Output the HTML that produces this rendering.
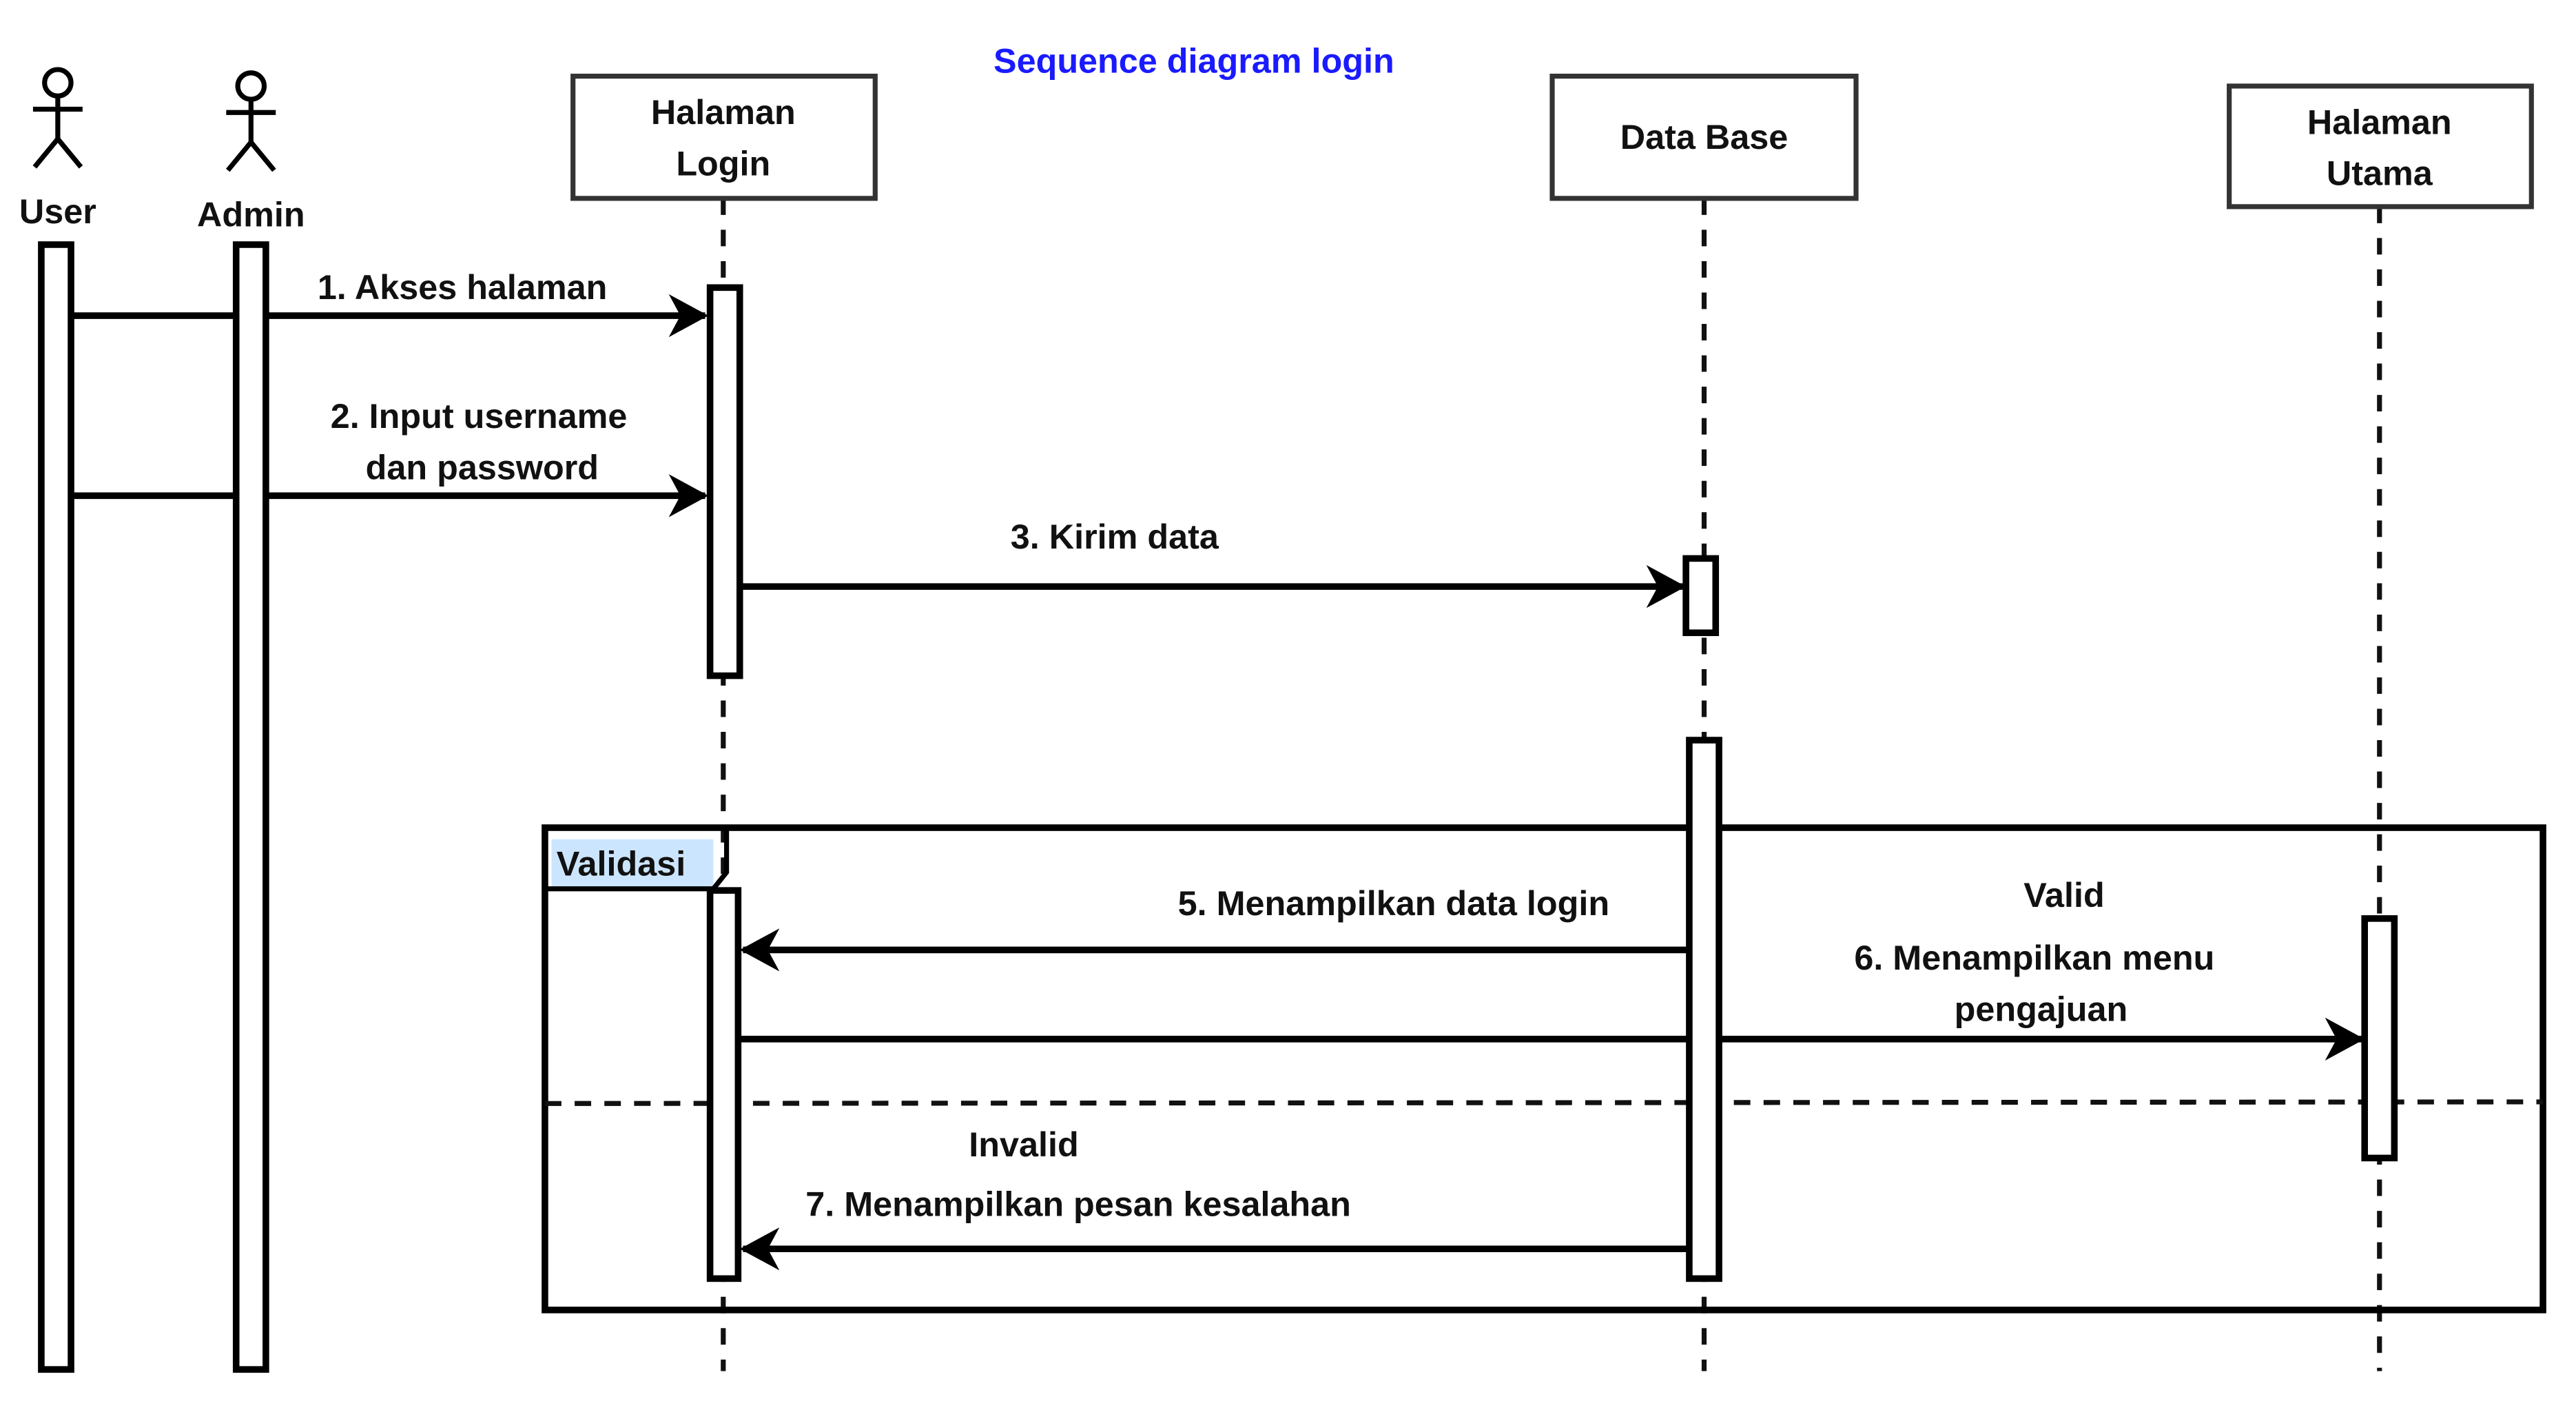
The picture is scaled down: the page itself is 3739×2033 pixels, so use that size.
<!DOCTYPE html>
<html><head><meta charset="utf-8"><style>
html,body{margin:0;padding:0;background:#fff;}
svg{display:block;}
text{font-family:"Liberation Sans",sans-serif;font-size:21px;font-weight:bold;fill:#111;}
</style></head><body>
<svg width="3739" height="2033" viewBox="0 0 1560 848" xmlns="http://www.w3.org/2000/svg">
<defs>
<marker id="ar" markerWidth="30" markerHeight="30" refX="22" refY="13" orient="auto" markerUnits="userSpaceOnUse">
<path d="M0,0 L24,13 L0,26 L7,13 Z" fill="#000"/>
</marker>
</defs>
<rect width="1560" height="848" fill="#fff"/>
<text x="723" y="44" text-anchor="middle" style="fill:#1a1aff;">Sequence diagram login</text>

<!-- actors -->
<g stroke="#000" stroke-width="3" fill="none">
<circle cx="35" cy="50" r="8"/><line x1="35" y1="58" x2="35" y2="84"/><line x1="20" y1="66" x2="50" y2="66"/><line x1="35" y1="84" x2="21" y2="101"/><line x1="35" y1="84" x2="49" y2="101"/>
<circle cx="152" cy="52" r="8"/><line x1="152" y1="60" x2="152" y2="86"/><line x1="137" y1="68" x2="167" y2="68"/><line x1="152" y1="86" x2="138" y2="103"/><line x1="152" y1="86" x2="166" y2="103"/>
</g>
<text x="35" y="135" text-anchor="middle">User</text>
<text x="152" y="137" text-anchor="middle">Admin</text>

<!-- lifelines dashed -->
<g stroke="#111" stroke-width="3" stroke-dasharray="10,9">
<line x1="438" y1="120" x2="438" y2="830"/>
<line x1="1032" y1="120" x2="1032" y2="830"/>
<line x1="1441" y1="125" x2="1441" y2="830"/>
</g>

<!-- header boxes -->
<g fill="#fff" stroke="#333" stroke-width="3">
<rect x="347" y="46" width="183" height="74"/>
<rect x="940" y="46" width="184" height="74"/>
<rect x="1350" y="52" width="183" height="73"/>
</g>
<text x="438" y="75" text-anchor="middle">Halaman</text>
<text x="438" y="106" text-anchor="middle">Login</text>
<text x="1032" y="90" text-anchor="middle">Data Base</text>
<text x="1441" y="81" text-anchor="middle">Halaman</text>
<text x="1441" y="112" text-anchor="middle">Utama</text>

<!-- frame -->
<rect x="330" y="501" width="1210" height="292" fill="none" stroke="#000" stroke-width="4"/>
<rect x="334" y="508" width="98" height="30" fill="#cce5ff"/>
<path d="M330,538 L432,538 L440,528 L440,501" fill="none" stroke="#000" stroke-width="3"/>
<text x="337" y="530">Validasi</text>
<line x1="330" y1="668" x2="1540" y2="667" stroke="#111" stroke-width="3" stroke-dasharray="10,8"/>

<!-- messages -->
<g stroke="#000" stroke-width="4" fill="none">
<line x1="43" y1="191" x2="427" y2="191" marker-end="url(#ar)"/>
<line x1="43" y1="300" x2="427" y2="300" marker-end="url(#ar)"/>
<line x1="448" y1="355" x2="1019" y2="355" marker-end="url(#ar)"/>
<line x1="1023" y1="575" x2="450" y2="575" marker-end="url(#ar)"/>
<line x1="448" y1="629" x2="1430" y2="629" marker-end="url(#ar)"/>
<line x1="1023" y1="756" x2="450" y2="756" marker-end="url(#ar)"/>
</g>

<!-- activation bars -->
<g fill="#fff" stroke="#000" stroke-width="4">
<rect x="25" y="148" width="18" height="681"/>
<rect x="143" y="148" width="18" height="681"/>
<rect x="430" y="174" width="18" height="235"/>
<rect x="1021" y="338" width="18" height="45"/>
<rect x="1023" y="448" width="18" height="326"/>
<rect x="430" y="539" width="17" height="235"/>
<rect x="1432" y="556" width="18" height="145"/>
</g>

<!-- labels -->
<text x="280" y="181" text-anchor="middle">1. Akses halaman</text>
<text x="290" y="259" text-anchor="middle">2. Input username</text>
<text x="292" y="290" text-anchor="middle">dan password</text>
<text x="675" y="332" text-anchor="middle">3. Kirim data</text>
<text x="844" y="554" text-anchor="middle">5. Menampilkan data login</text>
<text x="1250" y="549" text-anchor="middle">Valid</text>
<text x="1232" y="587" text-anchor="middle">6. Menampilkan menu</text>
<text x="1236" y="618" text-anchor="middle">pengajuan</text>
<text x="620" y="700" text-anchor="middle">Invalid</text>
<text x="653" y="736" text-anchor="middle">7. Menampilkan pesan kesalahan</text>
</svg>
</body></html>
